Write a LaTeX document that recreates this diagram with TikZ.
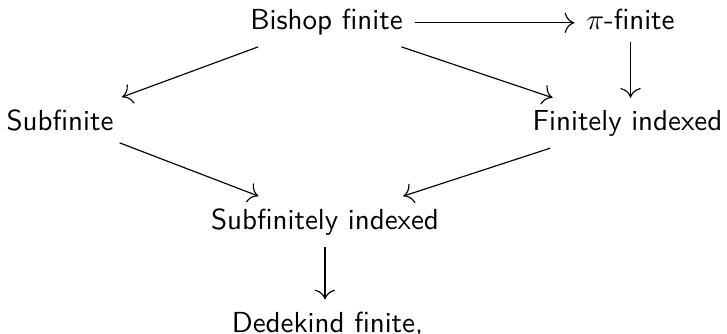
\documentclass[tikz,border=0pt]{standalone}
\usetikzlibrary{arrows.meta}

\begin{document}
\begin{tikzpicture}[every node/.style={anchor=base, inner sep=4pt, font=\sffamily}, >={Computer Modern Rightarrow[scale=1.35]}]
\useasboundingbox (0,0) rectangle (8.811,4.036);

\node (BF) at (3.957,3.684) {Bishop finite};
\node (PF) at (7.642,3.684) {$\pi$-finite};
\node (SF) at (0.727,2.460) {Subfinite};
\node (FI) at (7.605,2.460) {Finitely indexed};
\node (SI) at (3.939,1.260) {Subfinitely indexed};
\node (DF) at (3.969,0.012) {Dedekind finite,};

\draw[->] (BF.mid east) -- (PF.mid west);
\draw[->] (BF) -- (SF);
\draw[->] (BF) -- (FI);
\draw[->] (PF.south) -- (PF.south |- FI.north);
\draw[->] (SF) -- (SI);
\draw[->] (FI) -- (SI);
\draw[->] (SI.south) -- (SI.south |- DF.north);
\end{tikzpicture}
\end{document}
